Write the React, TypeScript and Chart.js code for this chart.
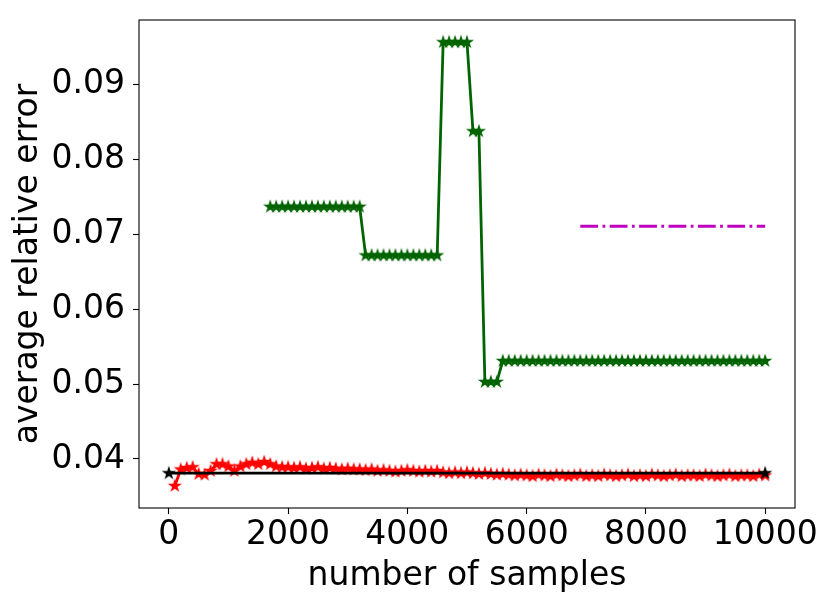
import React, { useEffect, useRef } from "react";
import { Chart, registerables } from "chart.js";

Chart.register(...registerables);

// ---------- data ----------
const redSamples = [
  100, 200, 300, 400, 500, 600, 700, 800, 900, 1000,
  1100, 1200, 1300, 1400, 1500, 1600, 1700, 1800, 1900, 2000,
  2100, 2200, 2300, 2400, 2500, 2600, 2700, 2800, 2900, 3000,
  3100, 3200, 3300, 3400, 3500, 3600, 3700, 3800, 3900, 4000,
  4100, 4200, 4300, 4400, 4500, 4600, 4700, 4800, 4900, 5000,
  5100, 5200, 5300, 5400, 5500, 5600, 5700, 5800, 5900, 6000,
  6100, 6200, 6300, 6400, 6500, 6600, 6700, 6800, 6900, 7000,
  7100, 7200, 7300, 7400, 7500, 7600, 7700, 7800, 7900, 8000,
  8100, 8200, 8300, 8400, 8500, 8600, 8700, 8800, 8900, 9000,
  9100, 9200, 9300, 9400, 9500, 9600, 9700, 9800, 9900, 10000,
];
const redErrors = [
  0.0364, 0.0386, 0.0388, 0.0389, 0.0380, 0.0379, 0.0384, 0.0393, 0.0393, 0.0390,
  0.0384, 0.0390, 0.0393, 0.0395, 0.0393, 0.0396, 0.0393, 0.0390, 0.0389, 0.0389,
  0.0388, 0.0389, 0.0387, 0.0388, 0.0389, 0.0387, 0.0388, 0.0387, 0.0386, 0.0387,
  0.0386, 0.0386, 0.0385, 0.0386, 0.0384, 0.0385, 0.0384, 0.0383, 0.0384, 0.0385,
  0.0384, 0.0383, 0.0384, 0.0383, 0.0384, 0.0382, 0.0381, 0.0382, 0.0381, 0.0382,
  0.0381, 0.0380, 0.0381, 0.0380, 0.0379, 0.0380, 0.0379, 0.0378, 0.0379, 0.0378,
  0.0377, 0.0379, 0.0378, 0.0377, 0.0379, 0.0378, 0.0377, 0.0378, 0.0379, 0.0377,
  0.0378, 0.0377, 0.0379, 0.0378, 0.0377, 0.0378, 0.0379, 0.0377, 0.0378, 0.0377,
  0.0379, 0.0378, 0.0377, 0.0378, 0.0379, 0.0377, 0.0378, 0.0378, 0.0377, 0.0379,
  0.0378, 0.0377, 0.0378, 0.0379, 0.0377, 0.0378, 0.0378, 0.0377, 0.0379, 0.0378,
];

const greenSamples = [
  1700, 1800, 1900, 2000, 2100, 2200, 2300, 2400, 2500, 2600,
  2700, 2800, 2900, 3000, 3100, 3200, 3300, 3400, 3500, 3600,
  3700, 3800, 3900, 4000, 4100, 4200, 4300, 4400, 4500, 4600,
  4700, 4800, 4900, 5000, 5100, 5200, 5300, 5400, 5500, 5600,
  5700, 5800, 5900, 6000, 6100, 6200, 6300, 6400, 6500, 6600,
  6700, 6800, 6900, 7000, 7100, 7200, 7300, 7400, 7500, 7600,
  7700, 7800, 7900, 8000, 8100, 8200, 8300, 8400, 8500, 8600,
  8700, 8800, 8900, 9000, 9100, 9200, 9300, 9400, 9500, 9600,
  9700, 9800, 9900, 10000,
];
const greenErrors = [
  0.0737, 0.0737, 0.0737, 0.0737, 0.0737, 0.0737, 0.0737, 0.0737, 0.0737, 0.0737,
  0.0737, 0.0737, 0.0737, 0.0737, 0.0737, 0.0737, 0.0672, 0.0672, 0.0672, 0.0672,
  0.0672, 0.0672, 0.0672, 0.0672, 0.0672, 0.0672, 0.0672, 0.0672, 0.0672, 0.0957,
  0.0957, 0.0957, 0.0957, 0.0957, 0.0838, 0.0838, 0.0503, 0.0503, 0.0503, 0.0531,
  0.0531, 0.0531, 0.0531, 0.0531, 0.0531, 0.0531, 0.0531, 0.0531, 0.0531, 0.0531,
  0.0531, 0.0531, 0.0531, 0.0531, 0.0531, 0.0531, 0.0531, 0.0531, 0.0531, 0.0531,
  0.0531, 0.0531, 0.0531, 0.0531, 0.0531, 0.0531, 0.0531, 0.0531, 0.0531, 0.0531,
  0.0531, 0.0531, 0.0531, 0.0531, 0.0531, 0.0531, 0.0531, 0.0531, 0.0531, 0.0531,
  0.0531, 0.0531, 0.0531, 0.0531,
];

const blackSamples = [0, 10000];
const blackErrors = [0.0381, 0.0381];

const magentaSamples = [6900, 10000];
const magentaErrors = [0.0711, 0.0711];

const xTickValues = [0, 2000, 4000, 6000, 8000, 10000];
const yTickValues = [0.04, 0.05, 0.06, 0.07, 0.08, 0.09];

const X_MIN = -500;
const X_MAX = 10500;
const Y_MIN = 0.03345;
const Y_MAX = 0.09866;

const X_TITLE = "number of samples";
const Y_TITLE = "average relative error";

// ---------- helpers ----------
function makeStar(color: string): HTMLCanvasElement {
  const size = 16;
  const c = document.createElement("canvas");
  c.width = size;
  c.height = size;
  const ctx = c.getContext("2d")!;
  const cx = size / 2;
  const cy = size / 2;
  const R = 5.4;
  const r = R * 0.381966;
  ctx.beginPath();
  for (let i = 0; i < 10; i++) {
    const ang = -Math.PI / 2 + (i * Math.PI) / 5;
    const rad = i % 2 === 0 ? R : r;
    const px = cx + rad * Math.cos(ang);
    const py = cy + rad * Math.sin(ang);
    if (i === 0) ctx.moveTo(px, py);
    else ctx.lineTo(px, py);
  }
  ctx.closePath();
  ctx.fillStyle = color;
  ctx.fill();
  ctx.lineWidth = 1.3;
  ctx.lineJoin = "miter";
  ctx.strokeStyle = color;
  ctx.stroke();
  return c;
}

function toPoints(xs: number[], ys: number[]) {
  return xs.map((x, i) => ({ x, y: ys[i] }));
}

const framePlugin = {
  id: "frame",
  afterDatasetsDraw(chart: any) {
    const { ctx, chartArea } = chart;
    ctx.save();
    ctx.strokeStyle = "#000";
    ctx.lineWidth = 1.1;
    ctx.strokeRect(
      chartArea.left,
      chartArea.top,
      chartArea.right - chartArea.left,
      chartArea.bottom - chartArea.top
    );
    ctx.restore();
  },
};

export default function App() {
  const canvasRef = useRef<HTMLCanvasElement | null>(null);

  useEffect(() => {
    if (!canvasRef.current) return;
    const font = { family: "'DejaVu Sans', sans-serif", size: 33, lineHeight: 1.2 };
    const LW = 2.78;

    const chart = new Chart(canvasRef.current, {
      type: "line",
      data: {
        datasets: [
          {
            label: "black",
            data: toPoints(blackSamples, blackErrors),
            borderColor: "#000000",
            backgroundColor: "#000000",
            borderWidth: LW,
            pointStyle: makeStar("#000000") as any,
            pointRadius: 5,
            tension: 0,
            borderJoinStyle: "round",
          },
          {
            label: "red",
            data: toPoints(redSamples, redErrors),
            borderColor: "#ff0000",
            backgroundColor: "#ff0000",
            borderWidth: LW,
            pointStyle: makeStar("#ff0000") as any,
            pointRadius: 5,
            tension: 0,
            borderJoinStyle: "round",
          },
          {
            label: "green",
            data: toPoints(greenSamples, greenErrors),
            borderColor: "#006400",
            backgroundColor: "#006400",
            borderWidth: LW,
            pointStyle: makeStar("#006400") as any,
            pointRadius: 5,
            tension: 0,
            borderJoinStyle: "round",
          },
          {
            label: "magenta",
            data: toPoints(magentaSamples, magentaErrors),
            borderColor: "#bf00bf",
            backgroundColor: "#bf00bf",
            borderWidth: LW,
            borderDash: [17.8, 4.4, 2.8, 4.4],
            borderCapStyle: "butt",
            pointRadius: 0,
            tension: 0,
          },
        ],
      },
      options: {
        animation: false,
        responsive: true,
        maintainAspectRatio: false,
        layout: { padding: { top: 20, right: 36, left: 0, bottom: 0 } },
        plugins: {
          legend: { display: false },
          tooltip: { enabled: false },
          title: { display: false },
        },
        events: [],
        scales: {
          x: {
            type: "linear",
            min: X_MIN,
            max: X_MAX,
            afterBuildTicks: (scale: any) => {
              scale.ticks = xTickValues.map((v) => ({ value: v }));
            },
            afterFit: (scale: any) => {
              scale.height = 98;
              scale.paddingLeft = 0;
              scale.paddingRight = 0;
            },
            ticks: {
              color: "#000",
              font,
              padding: 2,
              maxRotation: 0,
              autoSkip: false,
              callback: (v: any) => String(v),
            },
            grid: {
              display: true,
              drawOnChartArea: false,
              drawTicks: true,
              tickLength: 6,
              tickWidth: 1.1,
              tickColor: "#000",
            },
            border: { display: false },
            title: {
              display: true,
              text: X_TITLE,
              color: "#000",
              font,
              padding: { top: 0, bottom: 10 },
            },
          },
          y: {
            type: "linear",
            min: Y_MIN,
            max: Y_MAX,
            afterBuildTicks: (scale: any) => {
              scale.ticks = yTickValues.map((v) => ({ value: v }));
            },
            afterFit: (scale: any) => {
              scale.width = 139;
              scale.paddingTop = 0;
              scale.paddingBottom = 0;
            },
            ticks: {
              color: "#000",
              font,
              padding: 8,
              autoSkip: false,
              callback: (v: any) => Number(v).toFixed(2),
            },
            grid: {
              display: true,
              drawOnChartArea: false,
              drawTicks: true,
              tickLength: 6,
              tickWidth: 1.1,
              tickColor: "#000",
            },
            border: { display: false },
            title: {
              display: true,
              text: Y_TITLE,
              color: "#000",
              font,
              padding: { top: 9, bottom: 0 },
            },
          },
        },
      } as any,
      plugins: [framePlugin],
    });

    return () => {
      chart.destroy();
    };
  }, []);

  return (
    <div
      style={{
        position: "fixed",
        left: 0,
        top: 0,
        width: 831,
        height: 606,
        background: "#ffffff",
      }}
    >
      <canvas ref={canvasRef} />
    </div>
  );
}
